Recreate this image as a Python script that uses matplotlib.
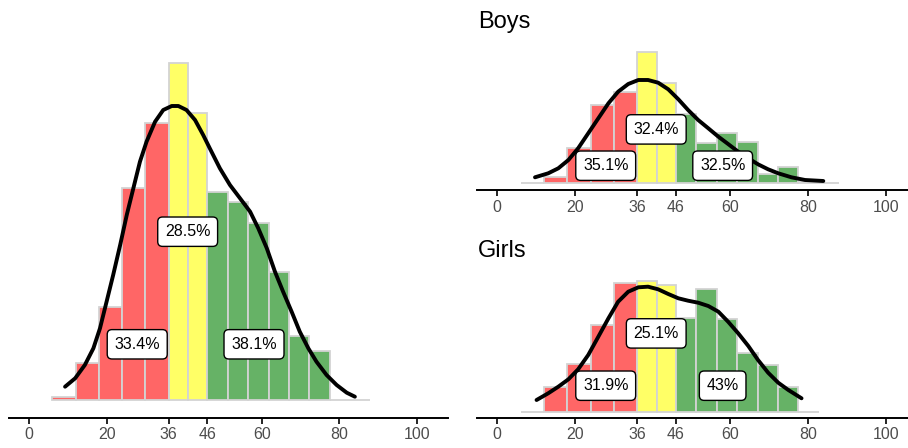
import numpy as np
import matplotlib
matplotlib.use("Agg")
import matplotlib.pyplot as plt

plt.rcParams['font.family'] = ['Liberation Sans', 'DejaVu Sans']

# bin edges for the three score bands
red_edges = [6, 12, 18, 24, 30, 36]
yellow_edges = [36, 41, 46]
green_edges = [46, 51.25, 56.5, 61.75, 67, 72.25, 77.5, 82.75, 88]
green_edges_girls = [46, 51.25, 56.5, 61.75, 67, 72.25, 77.5, 82.75]

ticks = [0, 20, 36, 46, 60, 80, 100]

# all pupils (scaled density)
all_red = [2.7, 36.7, 93.3, 212.3, 277.3]
all_yellow = [337.3, 287.3]
all_green = [207.7, 198.3, 176.7, 127.7, 64.3, 49.3, 0.5, 0]
all_kde_x = [9.3, 11.9, 14.4, 16.6, 18.3, 20.0, 21.7, 23.5, 25.2, 26.9, 28.6, 30.3,
             32.5, 34.6, 36.8, 38.5, 40.6, 42.8, 44.9, 46.6, 49.2, 51.8, 54.4, 57.0,
             59.1, 61.3, 63.4, 65.5, 67.7, 69.8, 72.0, 74.1, 76.7, 79.3, 81.9, 84.0]
all_kde_y = [13.3, 21.7, 35.0, 51.7, 71.7, 98.3, 125.0, 155.0, 185.0, 211.7, 238.3, 258.3,
             278.3, 290.0, 294.0, 294.0, 290.0, 280.0, 265.0, 251.7, 231.7, 215.0, 201.7, 188.3,
             171.7, 151.7, 128.3, 108.3, 88.3, 68.3, 51.7, 38.3, 25.0, 15.0, 7.3, 3.3]
all_pct = ['33.4%', '28.5%', '38.1%']

# boys
boys_red = [0, 5.3, 34.3, 77.7, 91.0]
boys_yellow = [130.3, 99.3]
boys_green = [68.3, 40.0, 49.3, 41.0, 8.7, 16.0, 0.5, 0]
boys_kde_x = [9.7, 13.1, 15.7, 18.3, 20.8, 23.4, 26.0, 28.6, 31.1, 33.7, 36.3, 38.8, 41.4, 44.0,
              46.6, 49.1, 51.7, 54.3, 56.9, 59.4, 62.0, 64.6, 67.1, 69.7, 72.3, 75.7, 79.2, 83.9]
boys_kde_y = [5.4, 9.4, 14.4, 22.7, 34.4, 49.4, 64.4, 79.4, 91.0, 98.7, 102.7, 102.7, 100.0, 93.4,
              83.4, 72.7, 62.7, 54.4, 46.0, 38.7, 31.0, 24.4, 18.4, 13.4, 9.4, 5.4, 2.7, 1.7]
boys_pct = ['35.1%', '32.4%', '32.5%']

# girls
girls_red = [0, 24.3, 47.3, 86.7, 128.3]
girls_yellow = [131.0, 126.7]
girls_green = [94.0, 122.7, 92.3, 58.3, 46.7, 24.3, 0]
girls_kde_x = [10.1, 13.1, 15.7, 18.3, 20.8, 23.4, 26.0, 28.6, 31.1, 33.7, 36.3, 38.8, 41.4, 44.0,
               46.6, 49.1, 51.7, 54.3, 56.9, 59.4, 62.0, 64.6, 67.1, 69.7, 72.3, 74.9, 78.3]
girls_kde_y = [11.7, 18.4, 25.0, 32.4, 42.4, 56.7, 75.0, 93.4, 110.0, 120.0, 124.4, 125.0, 122.4, 117.7,
               113.4, 111.0, 109.0, 105.7, 100.0, 90.0, 78.4, 65.7, 51.7, 39.0, 29.0, 21.7, 13.4]
girls_pct = ['31.9%', '25.1%', '43%']

RED = '#FF6666'
YELLOW = '#FFFF66'
GREEN = '#66B266'
EDGE = '#D3D3D3'


def draw_bars(ax, edges, heights, color):
    edges = np.array(edges, dtype=float)
    ax.bar(edges[:-1], heights, width=np.diff(edges), align='edge',
           color=color, edgecolor=EDGE, linewidth=1.3, zorder=2)


def panel(ax, red, yellow, green, g_edges, kx, ky, pct, label_y, ylim, xlim):
    draw_bars(ax, red_edges, red, RED)
    draw_bars(ax, yellow_edges, yellow, YELLOW)
    draw_bars(ax, g_edges, green, GREEN)
    ax.plot(kx, ky, color='black', lw=2.8, solid_capstyle='round',
            solid_joinstyle='round', zorder=3)
    label_x = [27.9, 40.9, 58.0]
    for x, y, t in zip(label_x, label_y, pct):
        ax.text(x, y, t, ha='center', va='center', fontsize=11.5, zorder=4,
                bbox=dict(boxstyle='round,pad=0.45,rounding_size=0.3',
                          fc='white', ec='black', lw=1))
    ax.set_xlim(*xlim)
    ax.set_ylim(*ylim)
    for s in ['left', 'right', 'top']:
        ax.spines[s].set_visible(False)
    ax.spines['bottom'].set_linewidth(1.4)
    ax.set_yticks([])
    ax.set_xticks(ticks)
    ax.tick_params(axis='x', length=4, width=1.2, labelsize=11.5,
                   labelcolor='#4D4D4D', pad=3)


def main():
    W, H = 908, 448
    fig = plt.figure(figsize=(W / 100, H / 100), dpi=100)

    ax1 = fig.add_axes([9 / W, 30.3 / H, 439 / W, 367.7 / H])
    panel(ax1, all_red, all_yellow, all_green, green_edges, all_kde_x, all_kde_y,
          all_pct, [55.7, 168.3, 55.7], (-17.7, 350), (-5.15, 108))

    ax2 = fig.add_axes([477.3 / W, 258 / H, 430.7 / W, 145 / H])
    panel(ax2, boys_red, boys_yellow, boys_green, green_edges, boys_kde_x, boys_kde_y,
          boys_pct, [17, 53.3, 17], (-7.3, 137.7), (-5.15, 105.7))

    ax3 = fig.add_axes([477.3 / W, 30.3 / H, 430.7 / W, 147.7 / H])
    panel(ax3, girls_red, girls_yellow, girls_green, green_edges_girls, girls_kde_x,
          girls_kde_y, girls_pct, [26, 78.3, 26], (-6, 141.7), (-5.15, 105.7))

    fig.text(478 / W, 1 - 28.3 / H, 'Boys', fontsize=17, va='baseline', ha='left')
    fig.text(478 / W, 1 - 256.7 / H, 'Girls', fontsize=17, va='baseline', ha='left')

    fig.savefig('out.png', dpi=100)


if __name__ == "__main__":
    main()
